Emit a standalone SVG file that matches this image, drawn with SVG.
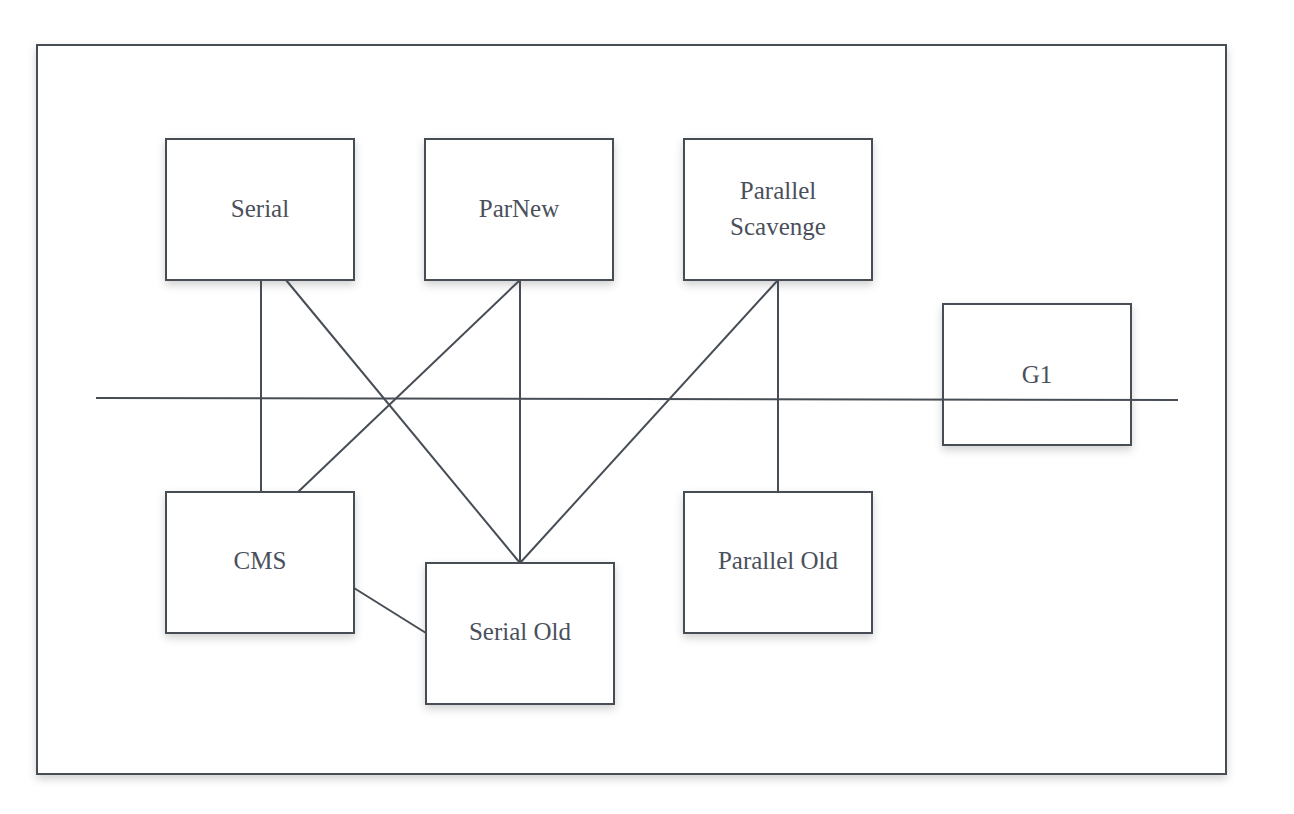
<svg xmlns="http://www.w3.org/2000/svg" width="1294" height="814" viewBox="0 0 1294 814">
  <defs>
    <filter id="shadow" x="-10%" y="-10%" width="120%" height="130%">
      <feDropShadow dx="0" dy="4" stdDeviation="4" flood-color="#000" flood-opacity="0.18"/>
    </filter>
  </defs>
  <style>
    .box { fill: #ffffff; stroke: #474d55; stroke-width: 2; filter: url(#shadow); }
    .edge { stroke: #474d55; stroke-width: 2; fill: none; }
    .label { font-family: "Liberation Serif", "Times New Roman", serif; font-size: 25px; fill: #4a505b; text-anchor: middle; dominant-baseline: central; }
  </style>
  <rect width="1294" height="814" fill="#ffffff"/>

  <!-- outer frame -->
  <g id="frame">
    <rect class="box" x="37" y="45" width="1189" height="729"/>
  </g>

  <!-- nodes -->
  <g id="serial">
    <rect class="box" x="166" y="139" width="188" height="141"/>
    <text class="label" x="260" y="208">Serial</text>
  </g>
  <g id="parnew">
    <rect class="box" x="425" y="139" width="188" height="141"/>
    <text class="label" x="519" y="208">ParNew</text>
  </g>
  <g id="parallel-scavenge">
    <rect class="box" x="684" y="139" width="188" height="141"/>
    <text class="label" x="778" y="190">Parallel</text>
    <text class="label" x="778" y="226">Scavenge</text>
  </g>
  <g id="cms">
    <rect class="box" x="166" y="492" width="188" height="141"/>
    <text class="label" x="260" y="560">CMS</text>
  </g>
  <g id="serial-old">
    <rect class="box" x="426" y="563" width="188" height="141"/>
    <text class="label" x="520" y="631">Serial Old</text>
  </g>
  <g id="parallel-old">
    <rect class="box" x="684" y="492" width="188" height="141"/>
    <text class="label" x="778" y="560">Parallel Old</text>
  </g>
  <g id="g1">
    <rect class="box" x="943" y="304" width="188" height="141"/>
    <text class="label" x="1037" y="374">G1</text>
  </g>

  <!-- connectors -->
  <g id="connectors">
    <line class="edge" x1="261" y1="280" x2="261" y2="492"/>
    <line class="edge" x1="286" y1="280" x2="520" y2="563"/>
    <line class="edge" x1="520" y1="280" x2="298" y2="492"/>
    <line class="edge" x1="520" y1="280" x2="520" y2="563"/>
    <line class="edge" x1="778" y1="280" x2="520" y2="563"/>
    <line class="edge" x1="778" y1="280" x2="778" y2="492"/>
    <line class="edge" x1="354" y1="588" x2="426" y2="633"/>
    <line class="edge" x1="96" y1="398" x2="1178" y2="400"/>
  </g>
</svg>
